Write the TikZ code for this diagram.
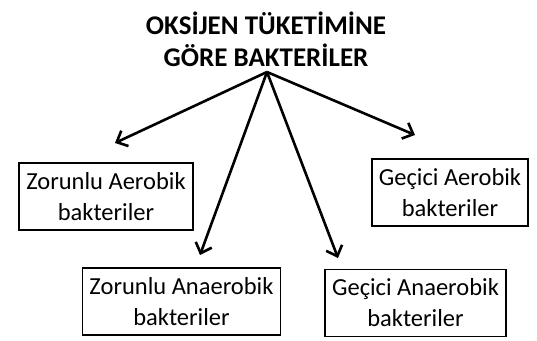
\documentclass[tikz,border=0pt]{standalone}
\usepackage{fontspec}
\setmainfont{Carlito}
\usetikzlibrary{arrows.meta,positioning}

\begin{document}
\begin{tikzpicture}[x=1pt,y=-1pt,
      Box/.style={
        draw, line width=1.8pt, align=center, inner xsep=7pt,
        minimum height=67pt, font=\fontsize{24.5}{31}\selectfont,
      },
      Link/.style={line width=2.6pt, -{Straight Barb[length=9pt,width=17pt]}},
      ]
      \useasboundingbox (0,0) rectangle (537,340);

      \node[align=center, font=\bfseries\fontsize{27}{32}\selectfont] (T) at (266,39) {OKSİJEN TÜKETİMİNE\\GÖRE BAKTERİLER};

      \node[Box] (ZA) at (106,196.5) {Zorunlu Aerobik\\bakteriler};
      \node[Box] (ZAn) at (181.5,301.5) {Zorunlu Anaerobik\\bakteriler};
      \node[Box] (GA) at (450,192.5) {Geçici Aerobik\\bakteriler};
      \node[Box] (GAn) at (415.5,303) {Geçici Anaerobik\\bakteriler};

      \coordinate (S) at (267,72);
      \coordinate (ZAtip) at (115,143);
      \coordinate (ZAntip) at (200,255);
      \coordinate (GAtip) at (415,135);
      \coordinate (GAntip) at (338,258);

      \draw[Link] (S) -- (ZAtip);
      \draw[Link] (S) -- (ZAntip);
      \draw[Link] (S) -- (GAntip);
      \draw[Link] (S) -- (GAtip);
    \end{tikzpicture}
\end{document}
